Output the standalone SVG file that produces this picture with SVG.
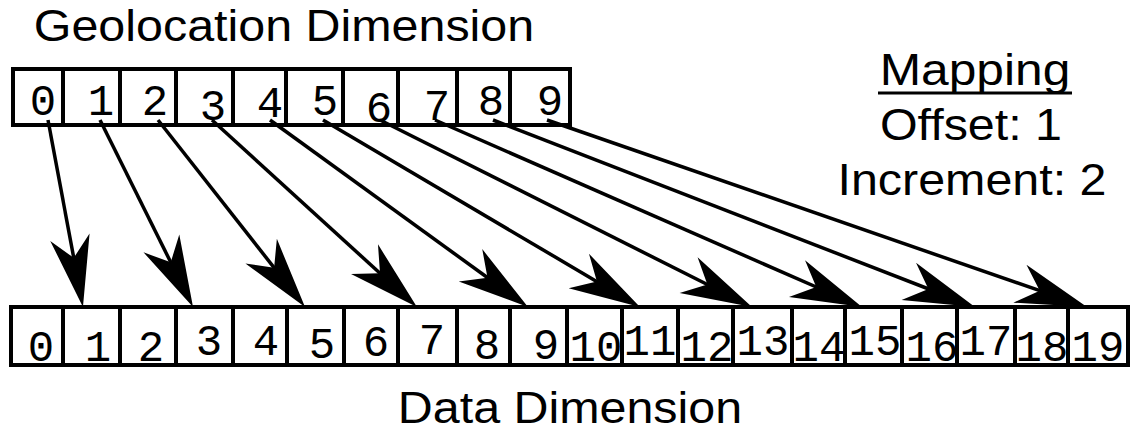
<svg xmlns="http://www.w3.org/2000/svg" width="1132" height="436" viewBox="0 0 1132 436">
  <style>
    .box { fill: #fff; stroke: #000; stroke-width: 4; }
    .div { stroke: #000; stroke-width: 4; }
    .dg { font-family: "Liberation Mono", "Courier New", monospace; font-size: 44px; fill: #000; text-anchor: middle; }
    .lbl { font-family: "Liberation Sans", Arial, Helvetica, sans-serif; font-size: 44px; fill: #000; text-anchor: middle; }
    .arr { stroke: #000; stroke-width: 3.5; fill: none; marker-end: url(#head); }
  </style>
  <defs>
    <marker id="head" markerUnits="userSpaceOnUse" viewBox="-80 -25 90 50" markerWidth="90" markerHeight="50" refX="-40" refY="0" orient="auto" overflow="visible">
      <path d="M0,0 L-71,-20 L-50,0 L-71,20 Z" fill="#000"/>
    </marker>
  </defs>
  <rect width="1132" height="436" fill="#fff"/>

  <g id="geo-title">
    <text class="lbl" transform="translate(284,41) scale(1.1,1)">Geolocation Dimension</text>
  </g>

  <g id="geo-array">
    <rect class="box" x="13" y="69" width="557" height="56"/>
    <path class="div" d="M63,69V125 M120,69V125 M176,69V125 M233,69V125 M286,69V125 M343,69V125 M398,69V125 M457,69V125 M510,69V125"/>
    <text class="dg" x="43" y="115">0</text>
    <text class="dg" x="101" y="115">1</text>
    <text class="dg" x="155" y="115">2</text>
    <text class="dg" x="213" y="120">3</text>
    <text class="dg" x="270" y="117">4</text>
    <text class="dg" x="325" y="115">5</text>
    <text class="dg" x="379" y="122">6</text>
    <text class="dg" x="437" y="120">7</text>
    <text class="dg" x="491" y="115">8</text>
    <text class="dg" x="550" y="115">9</text>
  </g>

  <g id="mapping">
    <text class="lbl" transform="translate(975,85) scale(1.13,1)">Mapping</text>
    <line x1="878" y1="93" x2="1072" y2="93" stroke="#000" stroke-width="3"/>
    <text class="lbl" transform="translate(971,140) scale(1.1,1)">Offset: 1</text>
    <text class="lbl" transform="translate(972,195) scale(1.1,1)">Increment: 2</text>
  </g>

  <g id="data-array">
    <rect class="box" x="11" y="307" width="1117" height="58"/>
    <path class="div" d="M63,307V365 M120,307V365 M176,307V365 M233,307V365 M287,307V365 M344,307V365 M398,307V365 M457,307V365 M510,307V365 M567,307V365 M622,307V365 M678,307V365 M733,307V365 M792,307V365 M845,307V365 M902,307V365 M957,307V365 M1015,307V365 M1068,307V365"/>
    <text class="dg" x="41" y="361">0</text>
    <text class="dg" x="98" y="361">1</text>
    <text class="dg" x="151" y="361">2</text>
    <text class="dg" x="209" y="355">3</text>
    <text class="dg" x="266" y="355">4</text>
    <text class="dg" x="322" y="358">5</text>
    <text class="dg" x="376" y="356">6</text>
    <text class="dg" x="432" y="354">7</text>
    <text class="dg" x="487" y="359">8</text>
    <text class="dg" x="546" y="359">9</text>
    <text class="dg" x="596" y="361">10</text>
    <text class="dg" x="650" y="355">11</text>
    <text class="dg" x="707" y="361">12</text>
    <text class="dg" x="763" y="355">13</text>
    <text class="dg" x="819" y="361">14</text>
    <text class="dg" x="875" y="355">15</text>
    <text class="dg" x="932" y="361">16</text>
    <text class="dg" x="986" y="355">17</text>
    <text class="dg" x="1042" y="361">18</text>
    <text class="dg" x="1098" y="361">19</text>
  </g>

  <g id="data-title">
    <text class="lbl" transform="translate(570,423) scale(1.1,1)">Data Dimension</text>
  </g>

  <g id="connectors">
    <line class="arr" x1="48" y1="120" x2="75.6" y2="267.7"/>
    <line class="arr" x1="100" y1="120" x2="175.2" y2="271.2"/>
    <line class="arr" x1="158" y1="120" x2="280.3" y2="275.6"/>
    <line class="arr" x1="212" y1="120" x2="387.4" y2="280"/>
    <line class="arr" x1="270" y1="120" x2="495.6" y2="283.5"/>
    <line class="arr" x1="323" y1="120" x2="605.5" y2="286.7"/>
    <line class="arr" x1="380" y1="120" x2="716.3" y2="289"/>
    <line class="arr" x1="435" y1="120" x2="825.4" y2="291"/>
    <line class="arr" x1="493" y1="120" x2="937.7" y2="292.5"/>
    <line class="arr" x1="547" y1="120" x2="1049.2" y2="293.9"/>
  </g>
</svg>
